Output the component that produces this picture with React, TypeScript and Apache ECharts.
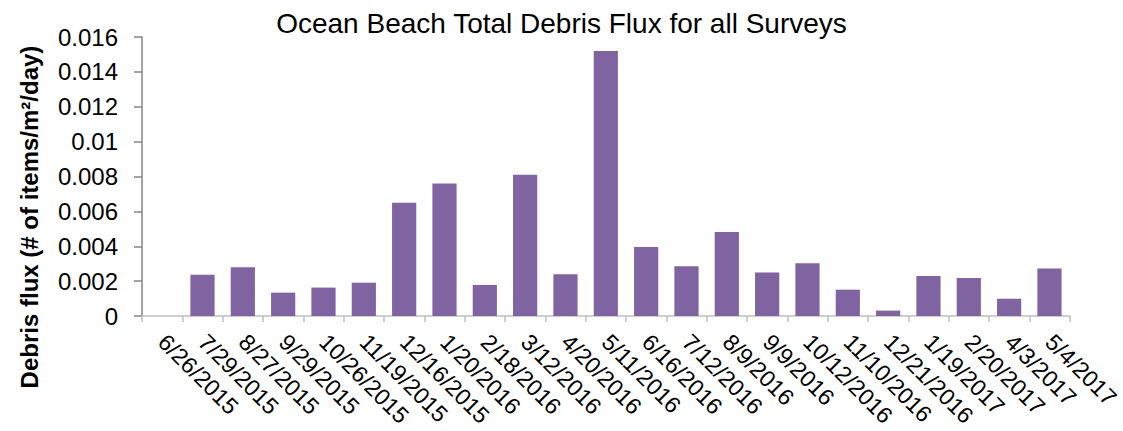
import React, { useEffect, useRef } from "react";
import * as echarts from "echarts";

const categories: string[] = [
  "6/26/2015", "7/29/2015", "8/27/2015", "9/29/2015", "10/26/2015", "11/19/2015",
  "12/16/2015", "1/20/2016", "2/18/2016", "3/12/2016", "4/20/2016", "5/11/2016",
  "6/16/2016", "7/12/2016", "8/9/2016", "9/9/2016", "10/12/2016", "11/10/2016",
  "12/21/2016", "1/19/2017", "2/20/2017", "4/3/2017", "5/4/2017",
];

const debrisFlux: number[] = [
  0, 0.00237, 0.00279, 0.00134, 0.00163, 0.00191,
  0.0065, 0.0076, 0.00178, 0.0081, 0.00239, 0.0152,
  0.00396, 0.00285, 0.00482, 0.0025, 0.00302, 0.00151,
  0.00031, 0.00229, 0.00218, 0.00099, 0.00273,
];

const yTicks = { min: 0, max: 0.016, interval: 0.002 };

const titleText = "Ocean Beach Total Debris Flux for all Surveys";
const yAxisTitle = "Debris flux (# of items/m²/day)";

const FONT = "'Liberation Sans', Arial, sans-serif";

export default function App() {
  const ref = useRef<HTMLDivElement>(null);

  useEffect(() => {
    document.body.style.margin = "0";
    if (!ref.current) return;
    const chart = echarts.init(ref.current, undefined, { renderer: "svg" });
    chart.setOption({
      animation: false,
      backgroundColor: "#ffffff",
      textStyle: { fontFamily: FONT },
      title: {
        text: titleText,
        left: "center",
        top: 4,
        textStyle: { fontSize: 28, fontWeight: "normal", color: "#000000", fontFamily: FONT },
      },
      graphic: [
        {
          type: "text",
          x: 29,
          y: 217,
          rotation: Math.PI / 2,
          style: {
            text: yAxisTitle,
            font: `bold 24px ${FONT}`,
            fill: "#000000",
            textAlign: "center",
            textVerticalAlign: "middle",
          },
        },
      ],
      grid: { left: 142, right: 52, top: 37, bottom: 115, containLabel: false },
      xAxis: {
        type: "category",
        data: categories,
        axisLine: { show: true, lineStyle: { color: "#bfbfbf", width: 1.5 } },
        axisTick: { show: true, alignWithLabel: false, length: 6, lineStyle: { color: "#bfbfbf", width: 1.5 } },
        axisLabel: {
          interval: 0,
          rotate: -45,
          margin: 22,
          fontSize: 23,
          color: "#000000",
          fontFamily: FONT,
        },
        splitLine: { show: false },
      },
      yAxis: {
        type: "value",
        min: yTicks.min,
        max: yTicks.max,
        interval: yTicks.interval,
        axisLine: { show: true, lineStyle: { color: "#868686", width: 1.5 } },
        axisTick: { show: true, length: 8, lineStyle: { color: "#868686", width: 1.5 } },
        axisLabel: {
          fontSize: 24,
          margin: 24,
          color: "#000000",
          fontFamily: FONT,
          formatter: (v: number) => String(Number(v.toFixed(3))),
        },
        splitLine: { show: false },
      },
      series: [
        {
          type: "bar",
          data: debrisFlux,
          barCategoryGap: "40%",
          itemStyle: { color: "#8064a2" },
        },
      ],
    });
    return () => chart.dispose();
  }, []);

  return <div ref={ref} style={{ width: 1123, height: 431 }} />;
}
